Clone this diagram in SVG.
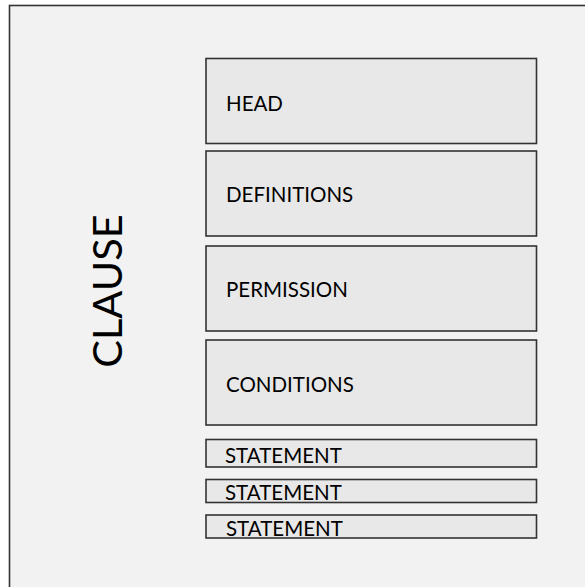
<svg xmlns="http://www.w3.org/2000/svg" width="585" height="587" viewBox="0 0 585 587">
<style>
.box{fill:#e8e8e8;stroke:#333;stroke-width:1.6}
.lbl{font-family:Lato,"Open Sans","Liberation Sans",sans-serif;font-size:20.5px;fill:#000}
</style>
<rect x="0" y="0" width="585" height="587" fill="#ffffff"/>
<g id="clause">
<rect x="9.5" y="5.5" width="590" height="600" fill="#f2f2f2" stroke="#333" stroke-width="1.6"/>
<text class="lbl" style="font-size:41.5px" transform="translate(122,291) rotate(-90)" text-anchor="middle">CLAUSE</text>
</g>
<g id="head"><rect class="box" x="206" y="58.5" width="330.5" height="85"/><text class="lbl" x="226" y="110.5">HEAD</text></g>
<g id="definitions"><rect class="box" x="206" y="151" width="330.5" height="85"/><text class="lbl" x="226" y="202">DEFINITIONS</text></g>
<g id="permission"><rect class="box" x="206" y="246" width="330.5" height="85"/><text class="lbl" x="226" y="297">PERMISSION</text></g>
<g id="conditions"><rect class="box" x="206" y="340" width="330.5" height="85"/><text class="lbl" x="226" y="391.5">CONDITIONS</text></g>
<g id="statement1"><rect class="box" x="206" y="439.5" width="330.5" height="27.5"/><text class="lbl" x="225" y="462.5">STATEMENT</text></g>
<g id="statement2"><rect class="box" x="206" y="479.5" width="330.5" height="23"/><text class="lbl" x="225" y="500">STATEMENT</text></g>
<g id="statement3"><rect class="box" x="206" y="515" width="330.5" height="23"/><text class="lbl" x="226" y="535.5">STATEMENT</text></g>
<g id="connectors"/>
</svg>
